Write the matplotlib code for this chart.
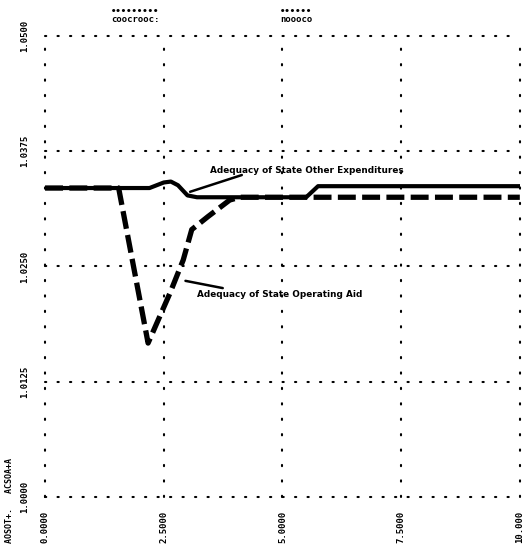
import matplotlib.pyplot as plt
import numpy as np

# valores
x_otros = [0.0, 2.2, 2.5, 2.65, 2.8, 3.0, 3.2, 5.5, 5.75, 10.0]
y_otros = [1.0335, 1.0335, 1.0341, 1.0342, 1.0338, 1.0327, 1.0325, 1.0325, 1.0337, 1.0337]

x_ayuda = [0.0, 1.55, 2.17, 2.63, 2.91, 3.09, 3.43, 3.89, 4.1, 10.0]
y_ayuda = [1.0335, 1.0335, 1.0167, 1.0221, 1.0257, 1.0290, 1.0304, 1.0322, 1.0325, 1.0325]

x_ticks = [0.0, 2.5, 5.0, 7.5, 10.0]
x_labels = ['0.0000', '2.5000', '5.0000', '7.5000', '10.000']
y_ticks = [1.0, 1.0125, 1.025, 1.0375, 1.05]
y_labels = ['1.0000', '1.0125', '1.0250', '1.0375', '1.0500']

fig = plt.figure(figsize=(5.24, 5.5), dpi=100)
ax = fig.add_axes([0.086, 0.096, 0.906, 0.839])
ax.set_xlim(0, 10)
ax.set_ylim(1.0, 1.05)
for s in ax.spines.values():
    s.set_visible(False)
ax.set_xticks([])
ax.set_yticks([])

# rejilla punteada
for xv in x_ticks:
    ax.plot([xv, xv], [1.0, 1.05], ls=(0, (0.6, 6.8)), color='black', lw=1.5,
            dash_capstyle='round', clip_on=False)
for yv in y_ticks:
    ax.plot([0, 10], [yv, yv], ls=(0, (0.6, 5.4)), color='black', lw=1.5,
            dash_capstyle='round', clip_on=False)

ax.plot(x_ayuda, y_ayuda, color='black', lw=3.8, ls=(0, (3.4, 1.2)))
ax.plot(x_otros, y_otros, color='black', lw=3.0, solid_joinstyle='round')

fnt = dict(family='DejaVu Sans', weight='bold', fontsize=6.4)
ax.text(3.48, 1.0354, 'Adequacy of State Other Expenditures', **fnt, va='center')
ax.annotate('', xy=(3.0, 1.0330), xytext=(4.2, 1.0350),
            arrowprops=dict(arrowstyle='-', lw=1.8, color='black'))
ax.text(3.2, 1.0220, 'Adequacy of State Operating Aid', **fnt, va='center')
ax.annotate('', xy=(2.9, 1.0235), xytext=(3.8, 1.0226),
            arrowprops=dict(arrowstyle='-', lw=1.8, color='black'))

# etiquetas de ejes giradas
for xv, lab in zip(x_ticks, x_labels):
    ax.text(xv, 0.9985, lab, rotation=90, ha='center', va='top',
            fontsize=6.5, weight='bold', family='DejaVu Sans Mono')
for yv, lab in zip(y_ticks, y_labels):
    ax.text(-0.33, yv, lab, rotation=90, ha='right', va='center',
            fontsize=6.5, weight='bold', family='DejaVu Sans Mono')

fig.text(0.018, 0.09, 'AOSOT+.   ACSOA+A', rotation=90, ha='center', va='center',
         fontsize=6, weight='bold', family='DejaVu Sans Mono')
fig.text(0.258, 0.972, '•••••••••\ncoocrooc:', ha='center', va='center',
         fontsize=6.5, weight='bold', family='DejaVu Sans Mono', linespacing=0.8)
fig.text(0.565, 0.972, '••••••\nnoooco', ha='center', va='center',
         fontsize=6.5, weight='bold', family='DejaVu Sans Mono', linespacing=0.8)

plt.savefig('out.png', dpi=100)
